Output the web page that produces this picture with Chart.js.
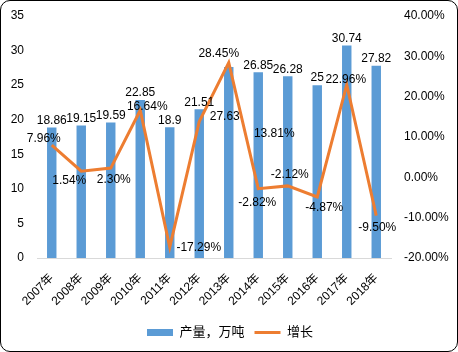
<!DOCTYPE html>
<html>
<head>
<meta charset="utf-8">
<script src="https://cdn.jsdelivr.net/npm/chart.js@4/dist/chart.umd.min.js"></script>
<style>
  body { margin: 0; background: #fff; }
  #box { position: relative; width: 458px; height: 352px; box-sizing: border-box; border: 1px solid #000; border-radius: 10px; }
  #c { position: absolute; left: 0; top: 0; }
</style>
</head>
<body>
<div id="box"><canvas id="c" width="458" height="352"></canvas></div>
<script>
var years = ['2007年', '2008年', '2009年', '2010年', '2011年', '2012年', '2013年', '2014年', '2015年', '2016年', '2017年', '2018年'];
var output = [18.86, 19.15, 19.59, 22.85, 18.9, 21.51, 27.63, 26.85, 26.28, 25, 30.74, 27.82];
var growth = [7.96, 1.54, 2.30, 16.64, -17.29, 13.81, 28.45, -2.82, -2.12, -4.87, 22.96, -9.50];

// label placement, pixels from the point (moved by hand in the original)
var growthLabelShift = [[-8, -7], [-12, 10], [3, 12], [7, -4], [29, 1], [75, 12], [-10, -9], [-1, 14], [2, -11], [7, 11], [-1, -5], [1, 12]];
var outputLabelShift = { 6: [-4, 57] };

var FONT = '"Liberation Sans", "Noto Sans CJK SC", sans-serif';

var labelPlugin = {
    id: 'valueLabels',
    afterDatasetsDraw: function (chart) {
        var ctx = chart.ctx;
        ctx.save();
        ctx.font = '12px ' + FONT;
        ctx.fillStyle = '#000';
        ctx.textAlign = 'center';
        ctx.textBaseline = 'middle';
        chart.getDatasetMeta(0).data.forEach(function (bar, i) {
            var s = outputLabelShift[i] || [0, 0];
            ctx.fillText(String(output[i]), bar.x + s[0], bar.y - 7 + s[1]);
        });
        chart.getDatasetMeta(1).data.forEach(function (pt, i) {
            var s = growthLabelShift[i];
            ctx.fillText(growth[i].toFixed(2) + '%', pt.x + s[0], pt.y + s[1]);
        });
        ctx.restore();
    }
};

function fixWidth(w) {
    return function (s) { s.width = w; s.paddingTop = 0; s.paddingBottom = 0; };
}

new Chart(document.getElementById('c'), {
    type: 'bar',
    data: {
        labels: years,
        datasets: [{
            type: 'bar',
            label: '产量，万吨',
            data: output,
            yAxisID: 'y',
            backgroundColor: '#5B9BD5',
            borderWidth: 0,
            barPercentage: 0.64,
            categoryPercentage: 0.5,
            pointStyle: 'rect',
            order: 2
        }, {
            type: 'line',
            label: '增长',
            data: growth,
            yAxisID: 'y1',
            borderColor: '#ED7D31',
            backgroundColor: '#ED7D31',
            borderWidth: 3,
            pointRadius: 0,
            pointStyle: 'line',
            tension: 0,
            order: 1
        }]
    },
    options: {
        responsive: false,
        animation: false,
        layout: { padding: { top: 15, bottom: 4, left: 0, right: 0 } },
        plugins: {
            tooltip: { enabled: false },
            legend: {
                position: 'bottom',
                labels: {
                    usePointStyle: true,
                    pointStyleWidth: 26,
                    boxHeight: 7,
                    padding: 10,
                    color: '#000',
                    font: { size: 13, family: FONT },
                    sort: function (a, b) { return a.datasetIndex - b.datasetIndex; }
                }
            }
        },
        scales: {
            x: {
                grid: { display: false, drawTicks: false },
                border: { color: '#d9d9d9', width: 1 },
                ticks: { color: '#000', font: { size: 12, family: FONT }, minRotation: 45, maxRotation: 45, padding: 13 },
                afterFit: function (s) { s.height = 58; s.paddingLeft = 0; s.paddingRight = 0; }
            },
            y: {
                position: 'left',
                min: 0, max: 35,
                grid: { display: false, drawTicks: false },
                border: { display: false },
                ticks: { stepSize: 5, color: '#000', font: { size: 12, family: FONT }, padding: 13 },
                afterFit: fixWidth(36)
            },
            y1: {
                position: 'right',
                min: -20, max: 40,
                grid: { display: false, drawTicks: false },
                border: { display: false },
                ticks: {
                    stepSize: 10, color: '#000', font: { size: 12, family: FONT }, padding: 13,
                    callback: function (v) { return v.toFixed(2) + '%'; }
                },
                afterFit: fixWidth(68)
            }
        }
    },
    plugins: [labelPlugin]
});
</script>
</body>
</html>
